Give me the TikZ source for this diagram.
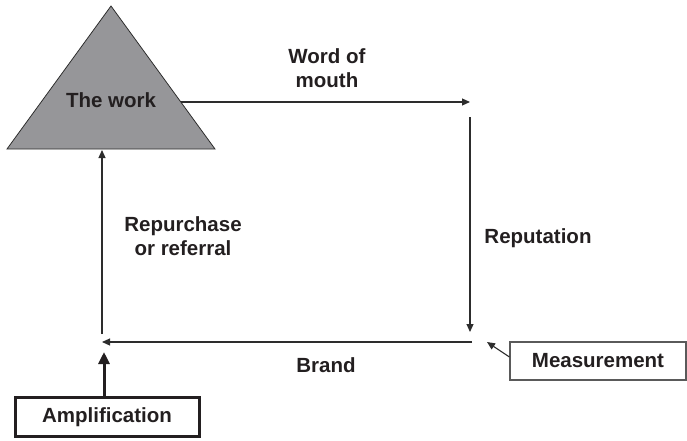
\documentclass[tikz,border=0pt]{standalone}
\usepackage{fontspec}
\setmainfont{Liberation Sans}
\definecolor{inkgray}{RGB}{35,31,32}
\definecolor{linegray}{RGB}{45,45,45}
\definecolor{workgray}{RGB}{150,150,153}
\definecolor{boxgray}{RGB}{90,90,90}
\usetikzlibrary{arrows.meta, positioning}

\begin{document}
\begin{tikzpicture}[
    x=1pt, y=-1pt,
    lbl/.style={font=\fontsize{20.5}{24}\selectfont\bfseries, text=inkgray, align=center, inner sep=0pt},
    arrow/.style={-{Triangle[length=8pt, width=7pt]}, line width=1.1pt, color=linegray},
    bigarrow/.style={-{Triangle[length=12pt, width=11pt]}, line width=3pt, color=inkgray},
    ampbox/.style={draw=inkgray, line width=3pt, minimum width=184pt, minimum height=39pt, inner sep=0pt},
    measbox/.style={draw=boxgray, line width=1.2pt, minimum width=176pt, minimum height=38pt, inner sep=0pt}
]
\useasboundingbox (0,0) rectangle (687,441);

% the work
\draw[line width=0.8pt, draw=linegray, fill=workgray] (7,149) -- (111,6) -- (215,149) -- cycle;
\node[lbl] (work) at (111,100) {The work};

% corners of the loop
\coordinate (wedge)  at (181,102);
\coordinate (topR)   at (470,102);
\coordinate (downR)  at (470,117);
\coordinate (botR)   at (470,332);
\coordinate (startB) at (472,342);
\coordinate (botL)   at (102,342);
\coordinate (upL)    at (102,334);
\coordinate (base)   at (102,150);
\coordinate (meas)   at (487,342);
\coordinate (amp)    at (104,352);

\node[ampbox]  (amplif) at (107,417) {};
\node[lbl] at (amplif) {Amplification};
\node[measbox] (measure) at (598,361) {};
\node[lbl] at (measure) {Measurement};

\draw[arrow] (wedge)  -- (topR);
\draw[arrow] (downR)  -- (botR);
\draw[arrow] (startB) -- (botL);
\draw[arrow] (upL)    -- (base);
\draw[arrow] (measure.west) ++(0,-4) -- (meas);
\draw[bigarrow] (amp |- amplif.north) -- (amp);

\node[lbl] (wom)  at (327,68)  {Word of\\mouth};
\node[lbl] (rep)  at (538,238) {Reputation};
\node[lbl] (rpr)  at (183,236) {Repurchase\\or referral};
\node[lbl] (brd)  at (326,365) {Brand};

\end{tikzpicture}
\end{document}
